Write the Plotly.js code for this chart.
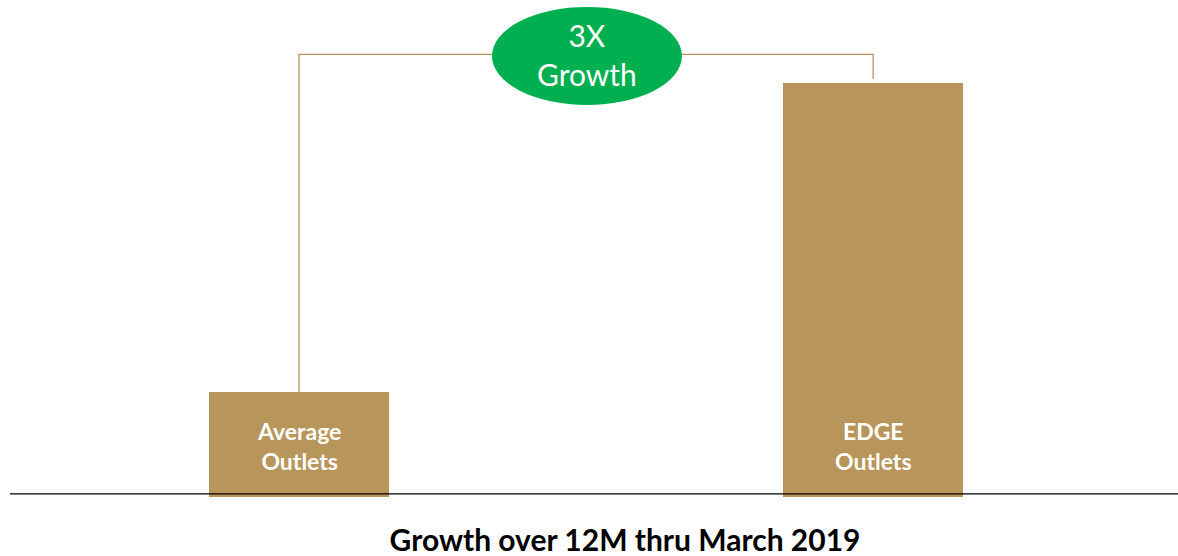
<!DOCTYPE html>
<html>
<head>
<meta charset="utf-8">
<script src="https://cdn.plot.ly/plotly-3.0.1.min.js"></script>
<style>
  html, body { margin: 0; padding: 0; background: #ffffff; }
  #chart { width: 1178px; height: 556px; }
</style>
</head>
<body>
<div id="chart"></div>
<script>
// Outlet groups and their relative growth over 12 months
const categories = ["Average Outlets", "EDGE Outlets"];
const barLabels = ["Average<br>Outlets", "EDGE<br>Outlets"];
const growthValues = [1.0, 3.94];
const calloutText = "3X<br>Growth";
const chartTitle = "Growth over 12M thru March 2019";

const barColor = "#B8955A";
const calloutColor = "#00B050";
const fontFamily = "Lato, 'Open Sans', sans-serif";

// bracket joining the two bars, rising above the taller one
const bracketTop = growthValues[1] * 1.07;
const bracketGap = 0.04;

const bars = {
  type: "bar",
  x: categories,
  y: growthValues,
  width: 0.3136,
  marker: { color: barColor, line: { width: 0 } },
  hoverinfo: "skip"
};

const bracket = {
  type: "scatter",
  mode: "lines",
  x: [categories[0], categories[0], categories[1], categories[1]],
  y: [growthValues[0], bracketTop, bracketTop, growthValues[1] + bracketGap],
  line: { color: barColor, width: 1.3 },
  hoverinfo: "skip"
};

const layout = {
  width: 1178,
  height: 556,
  margin: { l: 10, r: 0, t: 0, b: 59 },
  paper_bgcolor: "#ffffff",
  plot_bgcolor: "#ffffff",
  showlegend: false,
  bargap: 0,
  xaxis: {
    type: "category",
    range: [-0.5035, 1.531],
    showticklabels: false,
    showgrid: false,
    zeroline: false,
    showline: false,
    ticks: ""
  },
  yaxis: {
    range: [0, 4.733],
    showticklabels: false,
    showgrid: false,
    zeroline: false,
    showline: false,
    ticks: ""
  },
  shapes: [
    {
      type: "line", xref: "paper", yref: "y",
      x0: 0, x1: 1, y0: 0.029, y1: 0.029,
      line: { color: "#000000", width: 1.3 },
      layer: "above"
    },
    {
      type: "circle", xref: "x", yref: "y",
      x0: 0.336, x1: 0.667, y0: 3.733, y1: 4.667,
      fillcolor: calloutColor,
      line: { color: calloutColor, width: 0 },
      layer: "above"
    }
  ],
  annotations: [
    {
      x: 0.502, y: 4.21, xref: "x", yref: "y",
      text: calloutText, showarrow: false,
      font: { family: fontFamily, size: 30, color: "#ffffff" },
      align: "center", xanchor: "center", yanchor: "middle"
    },
    ...categories.map((c, i) => ({
      x: c, y: 0.486, xref: "x", yref: "y",
      text: "<b>" + barLabels[i] + "</b>", showarrow: false,
      font: { family: fontFamily, size: 23, color: "#ffffff" },
      align: "center", xanchor: "center", yanchor: "middle"
    }))
  ],
  title: {
    text: "<b>" + chartTitle + "</b>",
    xref: "container", yref: "container",
    x: 0.5306, y: 0.027, xanchor: "center", yanchor: "middle",
    font: { family: fontFamily, size: 30, color: "#000000" }
  }
};

Plotly.newPlot("chart", [bars, bracket], layout, { displayModeBar: false, staticPlot: true });
</script>
</body>
</html>
